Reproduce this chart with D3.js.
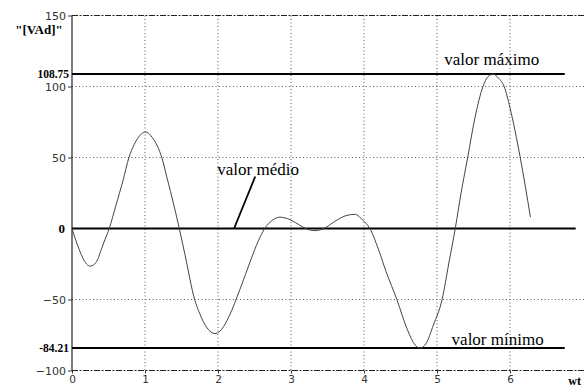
<!DOCTYPE html>
<html>
<head>
<meta charset="utf-8">
<script src="https://cdn.jsdelivr.net/npm/d3@7/dist/d3.min.js"></script>
<style>
  html, body { margin: 0; padding: 0; background: #fff; }
  svg { display: block; }
</style>
</head>
<body>
<svg id="chart" width="585" height="389"></svg>
<script>
// Instantaneous power waveform over one period (wt in rad)
const wt = [0, 0.05, 0.1, 0.15, 0.2, 0.25, 0.3, 0.35, 0.4, 0.45, 0.51, 0.6, 0.7, 0.78, 0.85, 0.9, 0.95, 1.0,
  1.05, 1.1, 1.17, 1.23, 1.3, 1.4, 1.47, 1.55, 1.68, 1.75, 1.85, 1.96, 2.05, 2.15, 2.3, 2.45, 2.55, 2.64,
  2.75, 2.85, 2.95, 3.1, 3.2, 3.33, 3.45, 3.6, 3.75, 3.88, 3.98, 4.08, 4.2, 4.3, 4.45, 4.6, 4.7, 4.77,
  4.85, 4.95, 5.07, 5.16, 5.25, 5.33, 5.42, 5.52, 5.63, 5.7, 5.77, 5.84, 5.92, 6.0, 6.14, 6.28];
const power = [0, -8, -15, -21, -25, -26.5, -25.5, -22, -15, -8, 0, 16, 34, 50, 59, 63.5, 66.5, 68,
  67, 64, 58, 50, 36, 15.5, 0, -19, -50, -60, -70, -74, -71, -62, -43, -22, -9, 0,
  6, 8, 7, 3, 0, -1.5, 0, 5, 9, 10, 6, 0, -15, -30, -50, -72, -82, -84.21,
  -81, -68, -50, -25, 0, 25, 50, 78, 100, 107, 108.75, 106, 100, 85, 50, 8];

// Reference levels
const maxValue = 108.75;
const meanValue = 0;
const minValue = -84.21;

const xTicks = [0, 1, 2, 3, 4, 5, 6];
const yTicks = [-100, -50, 50, 100, 150];
const yGrid = [-50, 50, 100];

const svg = d3.select("#chart");
const x = d3.scaleLinear().domain([0, 1]).range([72, 145]);
const y = d3.scaleLinear().domain([-100, 150]).range([370.5, 15.5]);
const xEnd = x(7.2);

const serif = "'Liberation Serif', 'Times New Roman', serif";
const sans = "'DejaVu Sans', sans-serif";

// Dotted grid
const grid = svg.append("g").attr("stroke", "#333").attr("stroke-width", 0.8)
  .attr("stroke-dasharray", "1,2.5").attr("fill", "none");
grid.selectAll("line.v").data(xTicks.slice(1)).join("line")
  .attr("x1", d => x(d)).attr("x2", d => x(d))
  .attr("y1", y(150)).attr("y2", y(-100));
grid.selectAll("line.h").data(yGrid).join("line")
  .attr("x1", x(0)).attr("x2", xEnd)
  .attr("y1", d => y(d)).attr("y2", d => y(d));

// Frame: top and bottom edges plus left axis
svg.append("g").attr("stroke", "#222").attr("stroke-width", 1)
  .attr("stroke-dasharray", "6,1.5,2,1.5")
  .selectAll("line").data([150, -100]).join("line")
  .attr("x1", x(0)).attr("x2", xEnd)
  .attr("y1", d => y(d)).attr("y2", d => y(d));
svg.append("line").attr("x1", x(0)).attr("x2", x(0))
  .attr("y1", y(150)).attr("y2", y(-100))
  .attr("stroke", "#222").attr("stroke-width", 1.2);

// Y axis ticks and labels
const yAxis = d3.axisLeft(y).tickValues(yTicks).tickSize(4).tickFormat(d => d < 0 ? "\u2212" + Math.abs(d) : d);
const gy = svg.append("g").attr("transform", `translate(${x(0)},0)`).call(yAxis);
gy.select(".domain").remove();
gy.selectAll("line").attr("stroke", "#333");
gy.selectAll("text").attr("font-family", sans).attr("font-size", 11).attr("fill", "#333").attr("x", -6);

// X axis labels
const xAxis = d3.axisBottom(x).tickValues(xTicks).tickSize(3).tickFormat(d3.format("d"));
const gx = svg.append("g").attr("transform", `translate(0,${y(-100)})`).call(xAxis);
gx.select(".domain").remove();
gx.selectAll("line").attr("stroke", "#333");
gx.selectAll("text").attr("font-family", sans).attr("font-size", 10.5).attr("fill", "#333").attr("dy", "0.6em");

// Level lines: maximum, mean and minimum
const levels = [
  { v: maxValue, end: 6.75, label: "108.75" },
  { v: meanValue, end: 6.9, label: "0" },
  { v: minValue, end: 6.75, label: "-84.21" }
];
svg.append("g").selectAll("line").data(levels).join("line")
  .attr("x1", x(0)).attr("x2", d => x(d.end))
  .attr("y1", d => y(d.v)).attr("y2", d => y(d.v))
  .attr("stroke", "#000").attr("stroke-width", 2);
svg.append("g").selectAll("text").data(levels).join("text")
  .attr("x", d => d.v === 0 ? x(0) - 7 : x(0) - 3)
  .attr("y", d => y(d.v) + 4)
  .attr("text-anchor", "end")
  .attr("font-family", serif).attr("font-weight", "bold")
  .attr("font-size", d => d.v === 0 ? 13 : 11.5)
  .text(d => d.label);

// Waveform
const pts = wt.map((t, i) => [t, power[i]]);
svg.append("path").datum(pts)
  .attr("fill", "none").attr("stroke", "#444").attr("stroke-width", 1)
  .attr("d", d3.line().x(d => x(d[0])).y(d => y(d[1])).curve(d3.curveMonotoneX));

// Annotations
const ann = svg.append("g").attr("font-family", serif).attr("font-size", 17).attr("fill", "#000");
ann.append("text").attr("x", x(5.1)).attr("y", y(maxValue) - 9).text("valor máximo");
ann.append("text").attr("x", x(5.2)).attr("y", y(minValue) - 3).text("valor mínimo");
ann.append("text").attr("x", x(1.99)).attr("y", y(meanValue) - 54).text("valor médio");
svg.append("line")
  .attr("x1", x(2.22)).attr("y1", y(meanValue))
  .attr("x2", x(2.51)).attr("y2", y(meanValue) - 52)
  .attr("stroke", "#000").attr("stroke-width", 1.8);

// Axis titles
svg.append("text").attr("x", 39).attr("y", 34).attr("text-anchor", "middle")
  .attr("font-family", serif).attr("font-weight", "bold").attr("font-size", 13)
  .text("\"[VAd]\"");
svg.append("text").attr("x", 581).attr("y", 385).attr("text-anchor", "end")
  .attr("font-family", serif).attr("font-weight", "bold").attr("font-size", 12)
  .text("wt");
</script>
</body>
</html>
